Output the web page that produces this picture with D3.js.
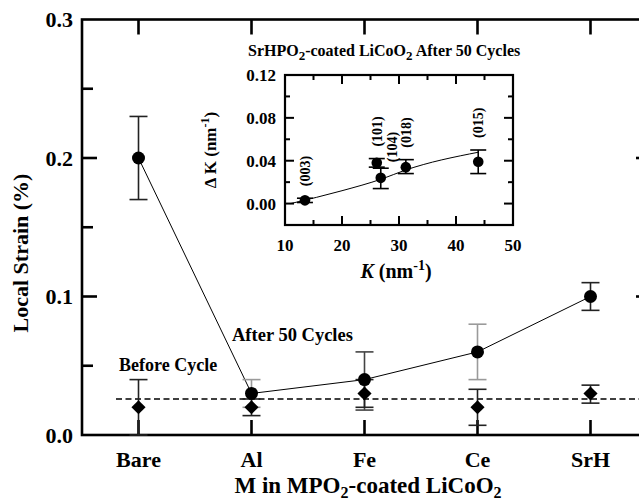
<!DOCTYPE html>
<meta charset='utf-8'>
<style>
  body { margin: 0; background: #fff; }
  svg text { font-family: 'Liberation Serif', 'Times New Roman', serif; font-weight: bold; fill: #000; }
</style>
<div id='chart'></div>
<script src='https://d3js.org/d3.v7.min.js'></script>
<script>

  // main panel data
  var metals = ['Bare', 'Al', 'Fe', 'Ce', 'SrH'];
  var afterStrain = [0.2, 0.03, 0.04, 0.06, 0.1];
  var afterLow = [0.17, 0.02, 0.018, 0.04, 0.09];
  var afterHigh = [0.23, 0.04, 0.06, 0.08, 0.11];
  var beforeStrain = [0.02, 0.02, 0.03, 0.02, 0.03];
  var beforeLow = [0.0, 0.014, 0.02, 0.007, 0.023];
  var beforeHigh = [0.04, 0.026, 0.04, 0.033, 0.036];
  var beforeMean = 0.026;
  var yTicks = [0, 0.1, 0.2, 0.3];
  var yMinorTicks = [0.05, 0.15, 0.25];

  // inset data
  var peaks = ['(003)', '(101)', '(104)', '(018)', '(015)'];
  var peakK = [13.5, 26.1, 26.8, 31.2, 43.9];
  var peakDK = [0.003, 0.038, 0.024, 0.034, 0.039];
  var peakLow = [0.001, 0.034, 0.014, 0.028, 0.028];
  var peakHigh = [0.005, 0.042, 0.033, 0.041, 0.050];
  var fitK = [11, 20, 27, 31, 44];
  var fitDK = [0.0, 0.012, 0.023, 0.031, 0.048];
  var insetXTicks = [10, 20, 30, 40, 50];
  var insetXMinor = [15, 25, 35, 45];
  var insetYTicks = [0, 0.04, 0.08, 0.12];
  var insetYMinor = [-0.02, 0.02, 0.06, 0.10];

  var W = 639, H = 502;
  var svg = d3.select('#chart').append('svg')
      .attr('width', W).attr('height', H);

  var padL = 82, padT = 19.5, padB = 435, padR = 651;

  var x = d3.scaleLinear().domain([-0.5, 4.5]).range([padL, 647]);
  var y = d3.scaleLinear().domain([0, 0.3]).range([padB, padT]);

  // frame
  svg.append('rect')
    .attr('x', padL).attr('y', padT)
    .attr('width', padR - padL).attr('height', padB - padT)
    .attr('fill', 'none').attr('stroke', '#000').attr('stroke-width', 2.6);

  // ticks (all sides, inward)
  var ticksG = svg.append('g').attr('stroke', '#000').attr('stroke-width', 2.6);
  yTicks.slice(1, 3).forEach(function (v) {
    ticksG.append('line').attr('x1', padL).attr('x2', padL + 15).attr('y1', y(v)).attr('y2', y(v));
    ticksG.append('line').attr('x1', padR).attr('x2', padR - 15).attr('y1', y(v)).attr('y2', y(v));
  });
  yMinorTicks.forEach(function (v) {
    ticksG.append('line').attr('x1', padL).attr('x2', padL + 11).attr('y1', y(v)).attr('y2', y(v));
    ticksG.append('line').attr('x1', padR).attr('x2', padR - 11).attr('y1', y(v)).attr('y2', y(v));
  });
  metals.forEach(function (m, i) {
    ticksG.append('line').attr('x1', x(i)).attr('x2', x(i)).attr('y1', padB).attr('y2', padB - 15);
    ticksG.append('line').attr('x1', x(i)).attr('x2', x(i)).attr('y1', padT).attr('y2', padT + 15);
  });

  svg.append('g').selectAll('text')
    .data(yTicks).enter().append('text')
      .attr('x', 73).attr('y', function (d) { return y(d); })
      .attr('dy', '0.35em')
      .attr('text-anchor', 'end')
      .style('font-size', '22px')
      .text(function (d) { return d3.format('.1f')(d); });

  svg.append('g').selectAll('text')
    .data(metals).enter().append('text')
      .attr('x', function (d, i) { return x(i); })
      .attr('y', 467)
      .attr('text-anchor', 'middle')
      .style('font-size', '22px')
      .text(function (d) { return d; });

  // axis titles
  var xt = svg.append('text')
    .attr('x', 368).attr('y', 493)
    .attr('text-anchor', 'middle')
    .style('font-size', '23px');
  xt.append('tspan').text('M in MPO');
  xt.append('tspan').attr('dy', 5).style('font-size', '16px').text('2');
  xt.append('tspan').attr('dy', -5).text('-coated LiCoO');
  xt.append('tspan').attr('dy', 5).style('font-size', '16px').text('2');

  svg.append('text')
    .attr('transform', 'translate(28,253) rotate(-90)')
    .attr('text-anchor', 'middle')
    .style('font-size', '22px')
    .text('Local Strain (%)');

  // before-cycle reference line
  svg.append('line')
    .attr('x1', 116).attr('x2', W)
    .attr('y1', y(beforeMean)).attr('y2', y(beforeMean))
    .attr('stroke', '#000').attr('stroke-width', 1.6)
    .attr('stroke-dasharray', '6,3.5');

  // after-cycle connecting line
  svg.append('path')
    .datum(afterStrain)
    .attr('d', d3.line().x(function (d, i) { return x(i); }).y(function (d) { return y(d); }))
    .attr('fill', 'none').attr('stroke', '#000').attr('stroke-width', 1);

  function errBar(g, cx, lo, hi, half, color) {
    g.append('line').attr('x1', cx).attr('x2', cx).attr('y1', lo).attr('y2', hi)
      .attr('stroke', color).attr('stroke-width', 1.6);
    [lo, hi].forEach(function (yy) {
      g.append('line').attr('x1', cx - half).attr('x2', cx + half).attr('y1', yy).attr('y2', yy)
        .attr('stroke', color).attr('stroke-width', 1.6);
    });
  }

  var eb = svg.append('g');
  metals.forEach(function (m, i) {
    var c = (m === 'Ce' || m === 'Al') ? '#9a9a9a' : (m === 'Fe' ? '#444' : '#222');
    errBar(eb, x(i), y(afterLow[i]), y(afterHigh[i]), 9, c);
    errBar(eb, x(i), y(beforeLow[i]), y(beforeHigh[i]), 9, '#222');
  });

  svg.append('g').selectAll('path')
    .data(beforeStrain).enter().append('path')
      .attr('d', d3.symbol().type(d3.symbolSquare).size(100))
      .attr('transform', function (d, i) { return 'translate(' + x(i) + ',' + y(d) + ') rotate(45)'; })
      .attr('fill', '#000');

  svg.append('g').selectAll('circle')
    .data(afterStrain).enter().append('circle')
      .attr('cx', function (d, i) { return x(i); })
      .attr('cy', function (d) { return y(d); })
      .attr('r', 6.5)
      .attr('fill', '#000');

  svg.append('text').attr('x', 119).attr('y', 371).style('font-size', '18px').text('Before Cycle');
  svg.append('text').attr('x', 232).attr('y', 341).style('font-size', '18.5px').text('After 50 Cycles');

  // ---------------- inset ----------------
  var ix = d3.scaleLinear().domain([10, 50]).range([285, 513]);
  var iy = d3.scaleLinear().domain([-0.02, 0.12]).range([225, 75]);

  var ins = svg.append('g');
  ins.append('rect')
    .attr('x', 285).attr('y', 75).attr('width', 228).attr('height', 150)
    .attr('fill', '#fff').attr('stroke', '#000').attr('stroke-width', 2.2);

  var itk = ins.append('g').attr('stroke', '#000').attr('stroke-width', 2);
  insetXTicks.slice(1, 4).forEach(function (v) {
    itk.append('line').attr('x1', ix(v)).attr('x2', ix(v)).attr('y1', 225).attr('y2', 216);
    itk.append('line').attr('x1', ix(v)).attr('x2', ix(v)).attr('y1', 75).attr('y2', 84);
  });
  insetXMinor.forEach(function (v) {
    itk.append('line').attr('x1', ix(v)).attr('x2', ix(v)).attr('y1', 225).attr('y2', 220);
    itk.append('line').attr('x1', ix(v)).attr('x2', ix(v)).attr('y1', 75).attr('y2', 80);
  });
  insetYTicks.slice(0, 3).forEach(function (v) {
    itk.append('line').attr('x1', 285).attr('x2', 294).attr('y1', iy(v)).attr('y2', iy(v));
    itk.append('line').attr('x1', 513).attr('x2', 504).attr('y1', iy(v)).attr('y2', iy(v));
  });
  insetYMinor.forEach(function (v) {
    itk.append('line').attr('x1', 285).attr('x2', 290).attr('y1', iy(v)).attr('y2', iy(v));
    itk.append('line').attr('x1', 513).attr('x2', 508).attr('y1', iy(v)).attr('y2', iy(v));
  });

  ins.append('g').selectAll('text')
    .data(insetXTicks).enter().append('text')
      .attr('x', function (d) { return ix(d); })
      .attr('y', 251)
      .attr('text-anchor', 'middle')
      .style('font-size', '17px')
      .text(function (d) { return d; });

  ins.append('g').selectAll('text')
    .data(insetYTicks).enter().append('text')
      .attr('x', 276)
      .attr('y', function (d) { return iy(d); })
      .attr('dy', '0.35em')
      .attr('text-anchor', 'end')
      .style('font-size', '17px')
      .text(function (d) { return d3.format('.2f')(d); });

  var it = ins.append('text').attr('x', 248).attr('y', 56).style('font-size', '16px');
  it.append('tspan').text('SrHPO');
  it.append('tspan').attr('dy', 4).style('font-size', '13px').text('2');
  it.append('tspan').attr('dy', -4).text('-coated LiCoO');
  it.append('tspan').attr('dy', 4).style('font-size', '13px').text('2');
  it.append('tspan').attr('dy', -4).text(' After 50 Cycles');

  var ixt = ins.append('text').attr('x', 396).attr('y', 278)
    .attr('text-anchor', 'middle').style('font-size', '20px');
  ixt.append('tspan').style('font-style', 'italic').text('K');
  ixt.append('tspan').text(' (nm');
  ixt.append('tspan').attr('dy', -8).style('font-size', '14px').text('-1');
  ixt.append('tspan').attr('dy', 8).text(')');

  var iyt = ins.append('text')
    .attr('transform', 'translate(216,150) rotate(-90)')
    .attr('text-anchor', 'middle').style('font-size', '17px');
  iyt.append('tspan').text('\u0394 K (nm');
  iyt.append('tspan').attr('dy', -7).style('font-size', '12px').text('-1');
  iyt.append('tspan').attr('dy', 7).text(')');

  // fit line
  ins.append('path')
    .datum(fitK)
    .attr('d', d3.line().curve(d3.curveMonotoneX)
      .x(function (d) { return ix(d); })
      .y(function (d, i) { return iy(fitDK[i]); }))
    .attr('fill', 'none').attr('stroke', '#000').attr('stroke-width', 1);

  var ieb = ins.append('g');
  peaks.forEach(function (p, i) {
    errBar(ieb, ix(peakK[i]), iy(peakLow[i]), iy(peakHigh[i]), 8, '#000');
  });

  ins.append('g').selectAll('circle')
    .data(peakK).enter().append('circle')
      .attr('cx', function (d) { return ix(d); })
      .attr('cy', function (d, i) { return iy(peakDK[i]); })
      .attr('r', 5.3)
      .attr('fill', '#000');

  ins.append('g').selectAll('text')
    .data(peaks).enter().append('text')
      .attr('transform', function (d, i) {
        var px = ix(peakK[i]) + (d === '(104)' ? 11 : 0);
        var py = iy(peakHigh[i]) - (d === '(104)' ? 6 : 12);
        return 'translate(' + px + ',' + py + ') rotate(-90)';
      })
      .attr('dy', '0.35em')
      .style('font-size', '14px')
      .text(function (d) { return d; });

</script>
